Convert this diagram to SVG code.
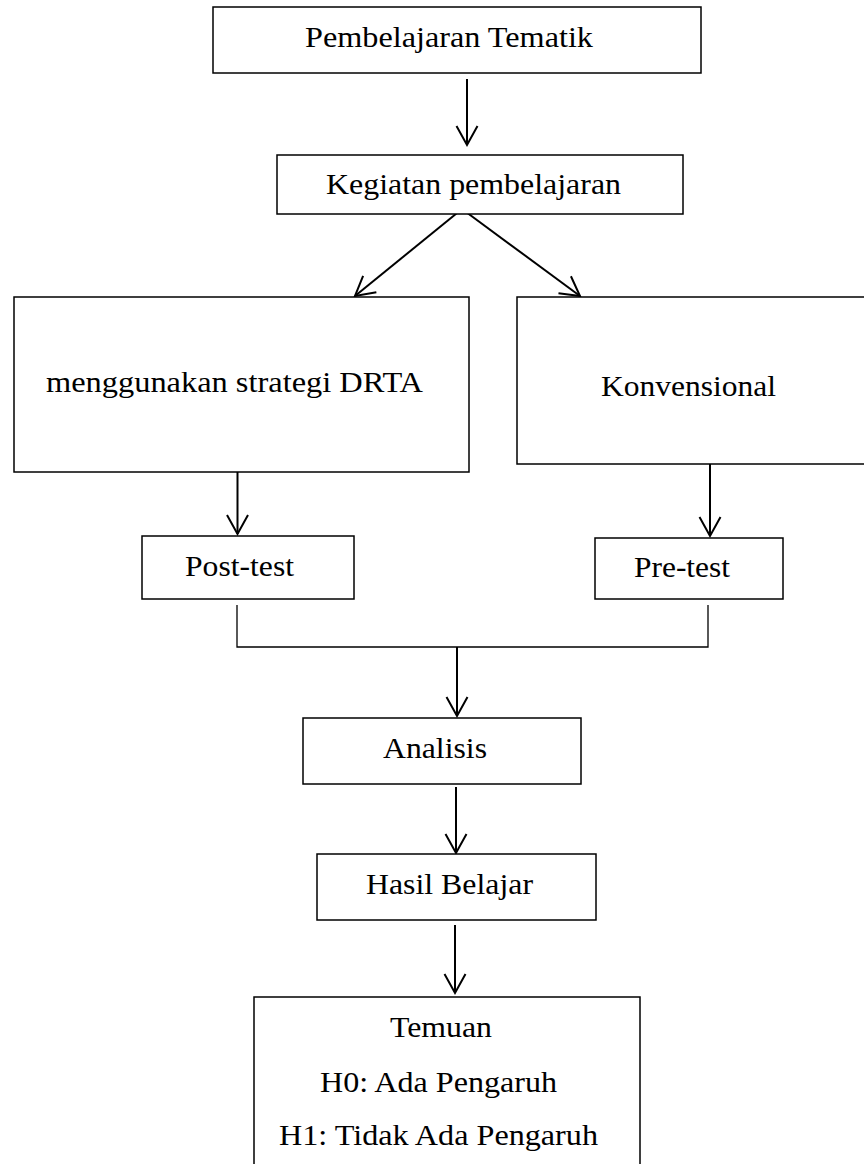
<svg xmlns="http://www.w3.org/2000/svg" width="864" height="1164" viewBox="0 0 864 1164">
<style>
.box{fill:#fff;stroke:#000;stroke-width:1.5}
.conn{fill:none;stroke:#000;stroke-width:2}
.lnk{fill:none;stroke:#000;stroke-width:1.3}
.t{font-family:"Liberation Serif","Times New Roman",serif;font-size:30px;fill:#000}
</style>
<defs>
<marker id="ah" markerUnits="userSpaceOnUse" markerWidth="40" markerHeight="40" refX="0" refY="0" orient="auto" overflow="visible" viewBox="-20 -20 40 40">
<path d="M-19,-10.5 L0,0 L-19,10.5" fill="none" stroke="#000" stroke-width="2"/>
</marker>
</defs>
<rect width="864" height="1164" fill="#fff"/>
<g id="connectors">
<line class="conn" x1="467" y1="79" x2="467" y2="145" marker-end="url(#ah)"/>
<line class="conn" x1="462" y1="209" x2="355" y2="296" marker-end="url(#ah)"/>
<line class="conn" x1="462" y1="209" x2="580" y2="296" marker-end="url(#ah)"/>
<line class="conn" x1="237.5" y1="472" x2="237.5" y2="534" marker-end="url(#ah)"/>
<line class="conn" x1="710" y1="464" x2="710" y2="536" marker-end="url(#ah)"/>
<polyline class="lnk" points="237,605 237,647 708,647 708,605"/>
<line class="conn" x1="457" y1="647" x2="457" y2="716" marker-end="url(#ah)"/>
<line class="conn" x1="456" y1="787" x2="456" y2="853" marker-end="url(#ah)"/>
<line class="conn" x1="455" y1="925" x2="455" y2="993" marker-end="url(#ah)"/>
</g>
<g id="n1"><rect class="box" x="213" y="7" width="488" height="66"/><text class="t" x="305" y="46.5" textLength="288" lengthAdjust="spacingAndGlyphs">Pembelajaran Tematik</text></g>
<g id="n2"><rect class="box" x="277" y="155" width="406" height="59"/><text class="t" x="326" y="194" textLength="295" lengthAdjust="spacingAndGlyphs">Kegiatan pembelajaran</text></g>
<g id="n3"><rect class="box" x="14" y="297" width="455" height="175"/><text class="t" x="46" y="392" textLength="377" lengthAdjust="spacingAndGlyphs">menggunakan strategi DRTA</text></g>
<g id="n4"><rect class="box" x="517" y="297" width="360" height="167"/><text class="t" x="601" y="396" textLength="175" lengthAdjust="spacingAndGlyphs">Konvensional</text></g>
<g id="n5"><rect class="box" x="142" y="536" width="212" height="63"/><text class="t" x="185" y="576" textLength="109" lengthAdjust="spacingAndGlyphs">Post-test</text></g>
<g id="n6"><rect class="box" x="595" y="538" width="188" height="61"/><text class="t" x="634" y="577" textLength="96" lengthAdjust="spacingAndGlyphs">Pre-test</text></g>
<g id="n7"><rect class="box" x="303" y="718" width="278" height="66"/><text class="t" x="383" y="758" textLength="104" lengthAdjust="spacingAndGlyphs">Analisis</text></g>
<g id="n8"><rect class="box" x="317" y="854" width="279" height="66"/><text class="t" x="366" y="894" textLength="167" lengthAdjust="spacingAndGlyphs">Hasil Belajar</text></g>
<g id="n9"><rect class="box" x="254" y="997" width="386" height="200"/>
<text class="t" x="390" y="1037" textLength="102" lengthAdjust="spacingAndGlyphs">Temuan</text>
<text class="t" x="320" y="1092" textLength="237" lengthAdjust="spacingAndGlyphs">H0: Ada Pengaruh</text>
<text class="t" x="279" y="1145" textLength="319" lengthAdjust="spacingAndGlyphs">H1: Tidak Ada Pengaruh</text></g>
</svg>
